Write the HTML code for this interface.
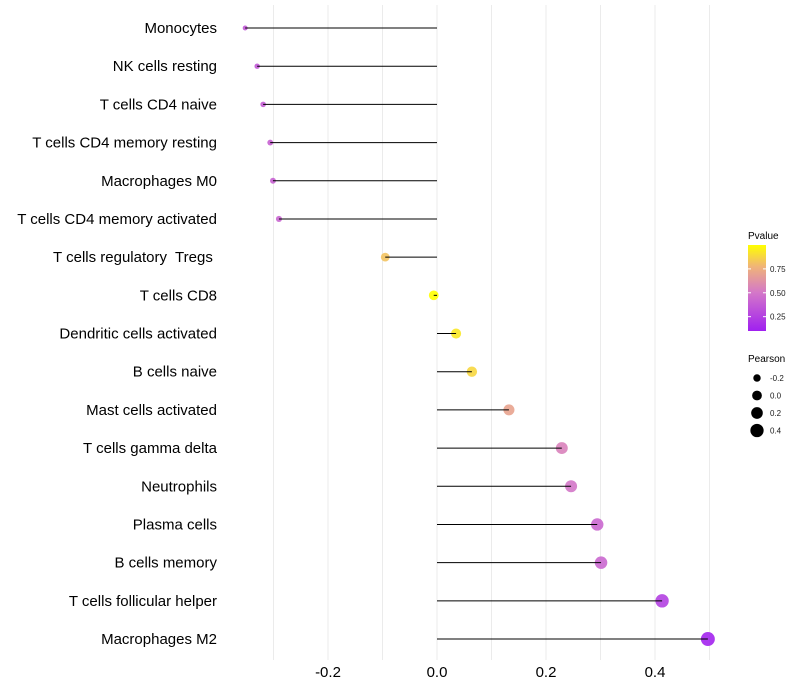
<!DOCTYPE html>
<html><head><meta charset="utf-8"><style>
body{margin:0;background:#fff;}
svg{display:block;font-family:"Liberation Sans",sans-serif;}
</style></head><body>
<svg id="chart" width="800" height="700">
<defs><linearGradient id="pg" x1="0" y1="1" x2="0" y2="0">
<stop offset="0" stop-color="rgb(160,32,240)"/><stop offset="0.45" stop-color="rgb(212,120,200)"/><stop offset="0.75" stop-color="rgb(240,180,120)"/><stop offset="1" stop-color="rgb(255,255,0)"/></linearGradient></defs>
<g id="grid"></g>
<g id="marks"></g>
<g id="ylabels"></g>
<g id="xlabels"></g>
<g>
<text x="748" y="239" font-size="10" fill="#000">Pvalue</text>
<rect x="748" y="245" width="18" height="86" fill="url(#pg)"/>
<g id="cbticks"></g>
</g>
<g>
<text x="748" y="362" font-size="10" fill="#000">Pearson</text>
<g id="sizeleg"></g>
</g>
</svg>
<script>
const categories=["Monocytes","NK cells resting","T cells CD4 naive","T cells CD4 memory resting","Macrophages M0","T cells CD4 memory activated","T cells regulatory  Tregs ","T cells CD8","Dendritic cells activated","B cells naive","Mast cells activated","T cells gamma delta","Neutrophils","Plasma cells","B cells memory","T cells follicular helper","Macrophages M2"];
const pearson=[-0.352,-0.330,-0.319,-0.306,-0.301,-0.290,-0.095,-0.006,0.035,0.064,0.132,0.229,0.246,0.294,0.301,0.413,0.497];
const pvalues=[0.36,0.36,0.38,0.40,0.40,0.42,0.82,1.0,0.93,0.88,0.70,0.55,0.50,0.43,0.43,0.25,0.12];
const xTicks=[-0.2,0.0,0.2,0.4];
const xGrid=[-0.3,-0.2,-0.1,0,0.1,0.2,0.3,0.4,0.5];
const cbTicks=[0.25,0.50,0.75];
const sizeTicks=[-0.2,0.0,0.2,0.4];

const NS="http://www.w3.org/2000/svg";
const X=v=>437+v*545;
const Y=i=>28+i*38.19;
const R=v=>Math.sqrt(Math.max(1,23.85+50.3*v));
const pMin=0.1,pMax=1.0;
const CY=p=>331-(p-pMin)/(pMax-pMin)*86;
const stops=[[0,160,32,240],[0.45,212,120,200],[0.75,240,180,120],[1,255,255,0]];
function col(p){const t=Math.max(0,Math.min(1,(p-pMin)/(pMax-pMin)));
 for(let k=1;k<stops.length;k++){if(t<=stops[k][0]){const a=stops[k-1],b=stops[k],u=(t-a[0])/(b[0]-a[0]);
  return `rgb(${Math.round(a[1]+(b[1]-a[1])*u)},${Math.round(a[2]+(b[2]-a[2])*u)},${Math.round(a[3]+(b[3]-a[3])*u)})`;}}
 return 'rgb(255,255,0)';}
function mk(tag,attrs,parent){const e=document.createElementNS(NS,tag);for(const k in attrs)e.setAttribute(k,attrs[k]);parent.appendChild(e);return e;}
const grid=document.getElementById('grid'),marks=document.getElementById('marks'),yl=document.getElementById('ylabels'),xl=document.getElementById('xlabels');
xGrid.forEach(g=>{const l=mk('line',{x1:X(g),x2:X(g),y1:5,y2:660,stroke:'#ebebeb','stroke-width':1},grid);
 
 });
categories.forEach((c,i)=>{
 const ci=mk('circle',{cx:X(pearson[i]),cy:Y(i),r:R(pearson[i]),fill:col(pvalues[i]),'fill-opacity':0.9},marks);
 
 
 const s=mk('line',{x1:X(0),x2:X(pearson[i]),y1:Y(i),y2:Y(i),stroke:'#000','stroke-width':1},marks);
 
 
 const t=mk('text',{x:217,y:Y(i)+5,'text-anchor':'end','font-size':15,fill:'#000','xml:space':'preserve',style:'white-space:pre'},yl);
 t.textContent=c;
 
 
});
xTicks.forEach(v=>{const t=mk('text',{x:X(v),y:677,'text-anchor':'middle','font-size':15,fill:'#000'},xl);
 t.textContent=v.toFixed(1);
 
 });
const cbt=document.getElementById('cbticks');
cbTicks.forEach(p=>{mk('line',{x1:748,x2:751,y1:CY(p),y2:CY(p),stroke:'#fff'},cbt);mk('line',{x1:763,x2:766,y1:CY(p),y2:CY(p),stroke:'#fff'},cbt);
 const t=mk('text',{x:770,y:CY(p)+3,'font-size':8,fill:'#1a1a1a'},cbt);t.textContent=p.toFixed(2);
 
 });
const sl=document.getElementById('sizeleg');
sizeTicks.forEach((v,i)=>{const y=378+i*17.5;
 const c=mk('circle',{cx:757,cy:y,r:R(v),fill:'#000'},sl);
 
 
 const t=mk('text',{x:770,y:y+3,'font-size':8,fill:'#1a1a1a'},sl);t.textContent=v.toFixed(1);
 
 });
</script>
</body></html>
